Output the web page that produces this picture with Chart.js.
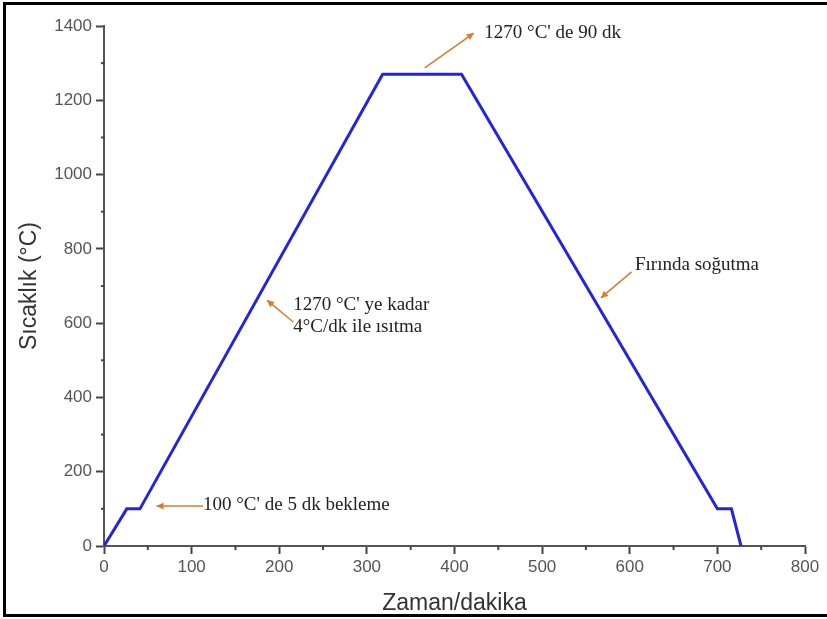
<!DOCTYPE html>
<html>
<head>
<meta charset="utf-8">
<script src="https://cdn.jsdelivr.net/npm/chart.js@4/dist/chart.umd.min.js"></script>
<style>
  html, body { margin: 0; padding: 0; background: #fff; }
  #wrap { width: 827px; height: 619px; position: relative; }
</style>
</head>
<body>
<div id="wrap"><canvas id="c" width="827" height="619"></canvas></div>
<script>
// ---- data ----
const timeMin = [0, 26, 41, 318, 408, 700, 716, 727];
const tempC   = [0, 100, 100, 1270, 1270, 100, 100, 0];

const xTicks = [0, 100, 200, 300, 400, 500, 600, 700, 800];
const yTicks = [0, 200, 400, 600, 800, 1000, 1200, 1400];
const xMinorTicks = [50, 150, 250, 350, 450, 550, 650, 750];
const yMinorTicks = [100, 300, 500, 700, 900, 1100, 1300];

const xTitle = "Zaman/dakika";
const yTitle = "Sıcaklık (°C)";

// annotations (data coordinates)
const noteTexts  = [["1270 °C' de 90 dk"], ["Fırında soğutma"], ["1270 °C' ye kadar", "4°C/dk ile ısıtma"], ["100 °C' de 5 dk bekleme"]];
const noteTextX  = [434, 606, 216, 113];
const noteTextY  = [1381, 757, 649, 110];
const arrowTailX = [366, 602, 216, 113];
const arrowTailY = [1287, 738, 603, 108];
const arrowHeadX = [422, 567, 186, 60];
const arrowHeadY = [1381, 668, 662, 108];

const points = timeMin.map((t, i) => ({ x: t, y: tempC[i] }));

const framePlugin = {
  id: 'frame',
  beforeDraw(chart) {
    const ctx = chart.ctx;
    ctx.save();
    ctx.fillStyle = '#fff';
    ctx.fillRect(0, 0, chart.width, chart.height);
    ctx.strokeStyle = '#000';
    ctx.lineWidth = 3;
    ctx.strokeRect(4.5, 3.5, chart.width + 10, 612);
    ctx.restore();
  },
  afterDraw(chart) {
    const ctx = chart.ctx;
    const xs = chart.scales.x, ys = chart.scales.y;
    ctx.save();
    // minor ticks
    ctx.strokeStyle = '#444';
    ctx.lineWidth = 2;
    const yb = ys.getPixelForValue(0);
    xMinorTicks.forEach(v => {
      const px = xs.getPixelForValue(v);
      ctx.beginPath(); ctx.moveTo(px, yb); ctx.lineTo(px, yb + 4); ctx.stroke();
    });
    const xl = xs.getPixelForValue(0);
    yMinorTicks.forEach(v => {
      const py = ys.getPixelForValue(v);
      ctx.beginPath(); ctx.moveTo(xl - 3, py); ctx.lineTo(xl + 1, py); ctx.stroke();
    });
    // annotations
    const orange = '#e07a2a';
    for (let i = 0; i < noteTexts.length; i++) {
      const tx = xs.getPixelForValue(arrowTailX[i]), ty = ys.getPixelForValue(arrowTailY[i]);
      const hx = xs.getPixelForValue(arrowHeadX[i]), hy = ys.getPixelForValue(arrowHeadY[i]);
      ctx.strokeStyle = orange;
      ctx.fillStyle = orange;
      ctx.lineWidth = 1.5;
      ctx.beginPath(); ctx.moveTo(tx, ty); ctx.lineTo(hx, hy); ctx.stroke();
      const ang = Math.atan2(hy - ty, hx - tx);
      const L = 7, W = 3.5;
      ctx.beginPath();
      ctx.moveTo(hx, hy);
      ctx.lineTo(hx - L * Math.cos(ang) + W * Math.sin(ang), hy - L * Math.sin(ang) - W * Math.cos(ang));
      ctx.lineTo(hx - L * Math.cos(ang) - W * Math.sin(ang), hy - L * Math.sin(ang) + W * Math.cos(ang));
      ctx.closePath(); ctx.fill();
      ctx.fillStyle = '#222';
      ctx.font = '19px "Liberation Serif", "DejaVu Serif", serif';
      ctx.textBaseline = 'middle';
      ctx.textAlign = 'left';
      const lx = xs.getPixelForValue(noteTextX[i]);
      const ly = ys.getPixelForValue(noteTextY[i]);
      noteTexts[i].forEach((line, k) => ctx.fillText(line, lx, ly + k * 22));
    }
    ctx.restore();
  }
};

const tickFont = { family: '"Liberation Sans", Arial, sans-serif', size: 17 };
const titleFont = { family: '"Liberation Sans", Arial, sans-serif', size: 23 };

new Chart(document.getElementById('c'), {
  type: 'line',
  data: {
    datasets: [{
      data: points,
      borderColor: '#2323e6',
      borderWidth: 3,
      pointRadius: 0,
      tension: 0,
      fill: false
    }]
  },
  options: {
    responsive: false,
    animation: false,
    layout: { padding: { left: 0, top: 26, right: 22, bottom: 0 } },
    plugins: { legend: { display: false }, tooltip: { enabled: false } },
    scales: {
      x: {
        type: 'linear',
        min: 0, max: 800,
        afterBuildTicks: s => { s.ticks = xTicks.map(v => ({ value: v })); },
        afterFit: s => { s.height = 73; },
        border: { display: true, color: '#555', width: 2 },
        grid: { display: true, drawOnChartArea: false, drawTicks: true, tickLength: 8, tickColor: '#444', tickWidth: 2 },
        ticks: { color: '#555', font: tickFont, padding: 3, maxRotation: 0, callback: v => String(v) },
        title: { display: true, text: xTitle, color: '#333', font: titleFont, padding: { top: 0, bottom: 2 } }
      },
      y: {
        type: 'linear',
        min: 0, max: 1400,
        afterBuildTicks: s => { s.ticks = yTicks.map(v => ({ value: v })); },
        afterFit: s => { s.width = 104; },
        border: { display: true, color: '#555', width: 2 },
        grid: { display: true, drawOnChartArea: false, drawTicks: true, tickLength: 8, tickColor: '#444', tickWidth: 2 },
        ticks: { color: '#555', font: tickFont, padding: 4, callback: v => String(v) },
        title: { display: true, text: yTitle, color: '#333', font: titleFont, padding: { top: 16, bottom: 0 } }
      }
    }
  },
  plugins: [framePlugin]
});
</script>
</body>
</html>
